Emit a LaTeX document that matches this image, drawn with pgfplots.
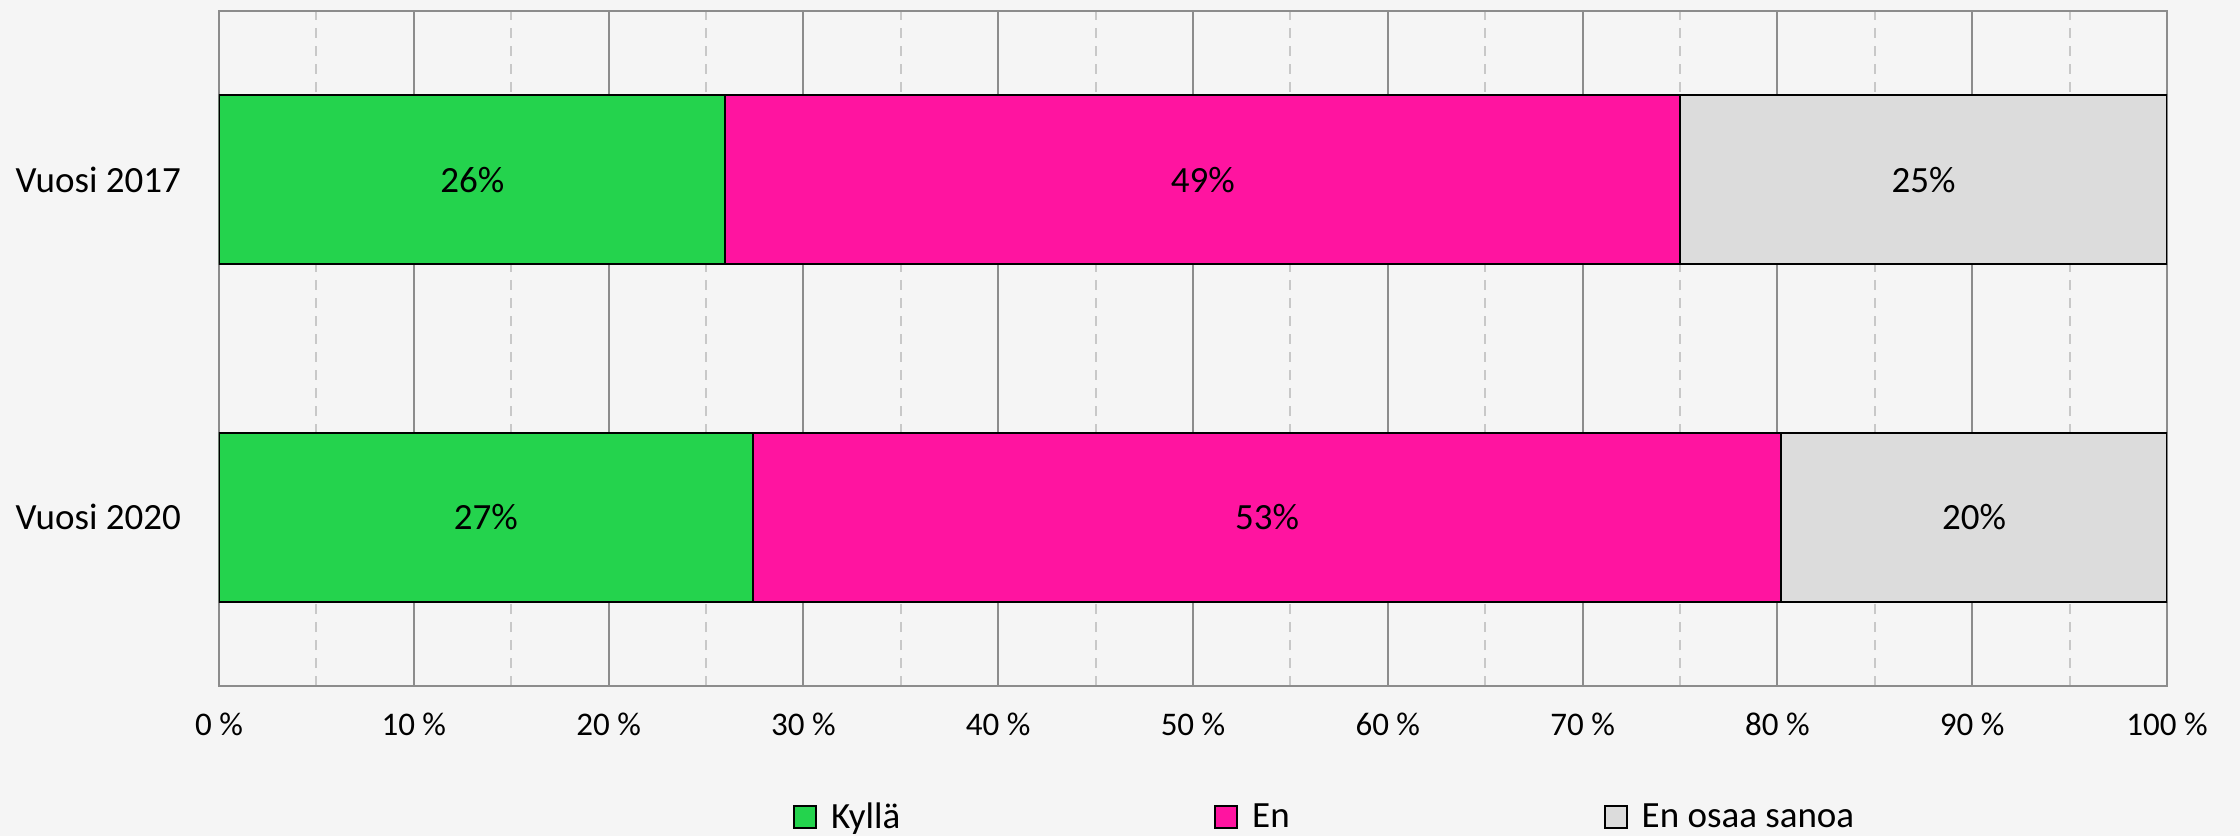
\documentclass[border=0pt]{standalone}
\usepackage{pgfplots}
\pgfplotsset{compat=1.18}
\usepackage{fontspec}
\setmainfont{Carlito}
\definecolor{bg}{HTML}{F5F5F5}
\definecolor{kgreen}{HTML}{24D34D}
\definecolor{kpink}{HTML}{FF14A0}
\definecolor{kgray}{HTML}{DCDCDC}
\definecolor{gridc}{HTML}{8C8C8C}
\definecolor{minc}{HTML}{C8C8C8}
\pgfplotsset{
  common/.style={
    at={(109.5pt,75pt)}, anchor=south west,
    scale only axis, width=974pt, height=337.5pt,
    xmin=0, xmax=100, ymin=-0.5, ymax=1.5,
  }
}
\begin{document}
\begin{tikzpicture}
\fill[bg] (0,0) rectangle (1120pt,418pt);
\begin{axis}[
  common,
  xbar stacked, bar width=0.5,
  xtick={0,10,...,100},
  xticklabels={0 \%,10 \%,20 \%,30 \%,40 \%,50 \%,60 \%,70 \%,80 \%,90 \%,100 \%},
  minor x tick num=1,
  xmajorgrids, xminorgrids,
  major grid style={gridc, line width=1pt},
  minor grid style={minc, line width=1pt, dash pattern=on 5pt off 4pt},
  axis line style={gridc, line width=1pt},
  major tick length=0pt, minor tick length=0pt,
  ytick={0,1}, yticklabels={Vuosi 2020, Vuosi 2017},
  yticklabel style={font=\fontsize{18.5}{22}\selectfont, xshift=-15.5pt},
  xticklabel style={font=\fontsize{16.5}{20}\selectfont, yshift=-10pt},
  legend style={at={(axis description cs:0.2945,-0.1948)}, anchor=west, draw=none, fill=none, inner sep=0pt,
    /tikz/every odd column/.append style={column sep=5pt},
    /tikz/every even column/.append style={column sep=155pt},
    font=\fontsize{18.5}{22}\selectfont},
  legend columns=-1,
  legend image code/.code={\draw[#1] (0pt,-5.5pt) rectangle (11pt,5.5pt);},
]
\addplot[fill=kgreen, draw=black, line width=1pt] coordinates {(26,1) (27.4,0)};
\addplot[fill=kpink, draw=black, line width=1pt] coordinates {(49,1) (52.8,0)};
\addplot[fill=kgray, draw=black, line width=1pt] coordinates {(25,1) (19.8,0)};
\legend{Kyllä, En, En osaa sanoa}
\end{axis}
\begin{axis}[
  common, hide axis,
  point meta=explicit symbolic,
  nodes near coords,
  nodes near coords style={anchor=center, font=\fontsize{18.5}{22}\selectfont, text=black},
]
\addplot[draw=none, mark=none, nodes near coords] coordinates {
  (13,1) [26\%] (50.5,1) [49\%] (87.5,1) [25\%]
  (13.7,0) [27\%] (53.8,0) [53\%] (90.1,0) [20\%]
};
\end{axis}
\pgfresetboundingbox
\path[use as bounding box] (0,0) rectangle (1120pt,418pt);
\end{tikzpicture}
\end{document}
